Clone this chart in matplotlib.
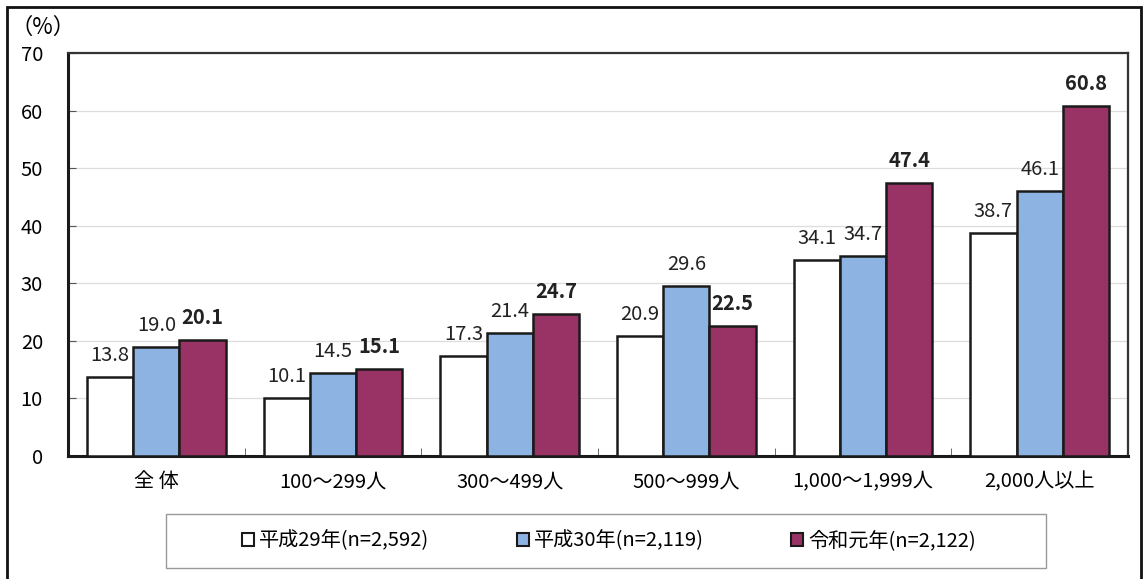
import numpy as np
import matplotlib
matplotlib.use("Agg")
import matplotlib.pyplot as plt
from matplotlib.patches import Rectangle

plt.rcParams['font.family'] = ['Noto Sans CJK JP', 'DejaVu Sans']

categories = ["全 体", "100～299人", "300～499人", "500～999人", "1,000～1,999人", "2,000人以上"]
series_names = ["平成29年(n=2,592)", "平成30年(n=2,119)", "令和元年(n=2,122)"]
h29 = [13.8, 10.1, 17.3, 20.9, 34.1, 38.7]
h30 = [19.0, 14.5, 21.4, 29.6, 34.7, 46.1]
r01 = [20.1, 15.1, 24.7, 22.5, 47.4, 60.8]
yticks = [0, 10, 20, 30, 40, 50, 60, 70]

colors = ["#FFFFFF", "#8DB3E2", "#993366"]
weights = ["normal", "normal", "bold"]
fs = 14.5

fig = plt.figure(figsize=(11.44, 5.79), dpi=100)
ax = fig.add_axes([68 / 1144, 123 / 579, 1060 / 1144, 403 / 579])

x = np.arange(len(categories))
w = 0.262
for i, (vals, c, fw) in enumerate(zip([h29, h30, r01], colors, weights)):
    xs = x + (i - 1) * w
    ax.bar(xs, vals, width=w, color=c, edgecolor="#1a1a1a", linewidth=1.8,
           label=series_names[i], zorder=3)
    for xi, v in zip(xs, vals):
        ax.annotate(f"{v:.1f}", (xi, v), xytext=(0, 11.5), textcoords="offset points",
                    ha="center", va="baseline", fontsize=fs, fontweight=fw, color="#222222")

ax.set_xlim(-0.5, len(categories) - 0.5)
ax.set_ylim(0, 70)
ax.set_yticks(yticks)
ax.set_yticklabels([str(t) for t in yticks], fontsize=fs)
ax.set_xticks(x)
ax.set_xticklabels(categories, fontsize=fs)
ax.set_xticks(x[:-1] + 0.5, minor=True)
ax.tick_params(axis="x", which="major", length=0, pad=11)
ax.tick_params(axis="x", which="minor", direction="in", length=6, color="#555555")
ax.tick_params(axis="y", direction="in", length=6, color="#555555", pad=18)
ax.yaxis.grid(True, color="#DDDDDD", linewidth=0.9, zorder=0)
ax.set_axisbelow(True)

for side in ["left", "bottom"]:
    ax.spines[side].set_linewidth(2.2)
    ax.spines[side].set_color("#1a1a1a")
for side in ["top", "right"]:
    ax.spines[side].set_linewidth(1.6)
    ax.spines[side].set_color("#333333")

fig.text(10 / 1144, 1 - 27 / 579, "（%）", fontsize=16, va="center", ha="left")

# legend box drawn separately so the entries can sit centered inside it
fig.patches.append(Rectangle((166 / 1144, 1 - 568 / 579), 880 / 1144, 54 / 579,
                             transform=fig.transFigure, fill=False,
                             edgecolor="#999999", linewidth=1.0))
handles = [Rectangle((0, 0), 1, 1, facecolor=c, edgecolor="#1a1a1a", linewidth=1.5)
           for c in colors]
fig.legend(handles, series_names, loc="center", bbox_to_anchor=(609 / 1144, 1 - 541 / 579),
           ncol=3, frameon=False, fontsize=fs, handlelength=0.6, handleheight=0.6,
           handletextpad=0.25, columnspacing=4.35)

# outer frame
fig.patches.append(Rectangle((7 / 1144, -0.02), 1134 / 1144, 1 - 7 / 579 + 0.02,
                             transform=fig.transFigure, fill=False,
                             edgecolor="#111111", linewidth=2.0))

fig.savefig("out.png", dpi=100)
